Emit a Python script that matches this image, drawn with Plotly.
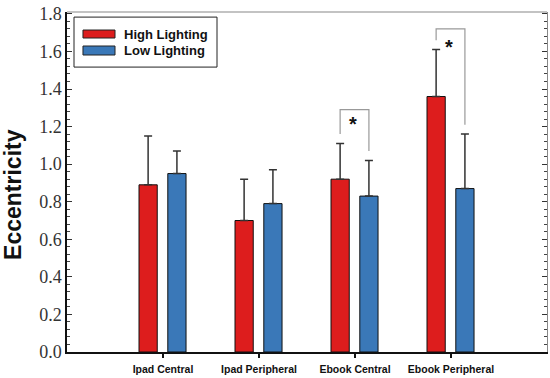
import plotly.graph_objects as go

categories = ["Ipad Central", "Ipad Peripheral", "Ebook Central", "Ebook Peripheral"]
high_values = [0.89, 0.70, 0.92, 1.36]
high_err = [0.26, 0.22, 0.19, 0.25]
low_values = [0.95, 0.79, 0.83, 0.87]
low_err = [0.12, 0.18, 0.19, 0.29]
series_names = ["High Lighting", "Low Lighting"]
sig_categories = ["Ebook Central", "Ebook Peripheral"]
sig_bracket_top = [1.29, 1.72]
sig_star_y = [1.215, 1.625]
y_ticks = [0.0, 0.2, 0.4, 0.6, 0.8, 1.0, 1.2, 1.4, 1.6, 1.8]

RED = "#DD1D1D"
BLUE = "#3A78B8"
BAR_W = 0.19
RED_OFF = -0.25
BLUE_OFF = 0.05

fig = go.Figure()
fig.add_trace(go.Bar(
    x=categories, y=high_values, name=series_names[0],
    width=BAR_W, offset=RED_OFF,
    marker=dict(color=RED, line=dict(color="#111", width=1)),
    error_y=dict(type="data", symmetric=False, array=high_err,
                 arrayminus=[0] * len(high_err), color="#333", thickness=1.5, width=4),
    showlegend=False,
))
fig.add_trace(go.Bar(
    x=categories, y=low_values, name=series_names[1],
    width=BAR_W, offset=BLUE_OFF,
    marker=dict(color=BLUE, line=dict(color="#111", width=1)),
    error_y=dict(type="data", symmetric=False, array=low_err,
                 arrayminus=[0] * len(low_err), color="#333", thickness=1.5, width=4),
    showlegend=False,
))
# invisible trace to activate right axis
fig.add_trace(go.Scatter(x=[categories[0]], y=[0], yaxis="y2", mode="markers",
                         marker=dict(opacity=0), showlegend=False, hoverinfo="skip"))

shapes = []
annotations = []
gap = 0.05
for cat, top, sy in zip(sig_categories, sig_bracket_top, sig_star_y):
    i = categories.index(cat)
    xl = i + RED_OFF + BAR_W / 2
    xr = i + BLUE_OFF + BAR_W / 2
    yl = high_values[i] + high_err[i] + gap
    yr = low_values[i] + low_err[i] + gap
    shapes.append(dict(type="path", xref="x", yref="y",
                       path=f"M {xl},{yl} L {xl},{top} L {xr},{top} L {xr},{yr}",
                       line=dict(color="#999", width=1.2)))
    annotations.append(dict(x=i - 0.02, y=sy, xref="x", yref="y", text="<b>*</b>",
                            showarrow=False, font=dict(family="Liberation Sans", size=20, color="#111"),
                            yanchor="middle"))

# frame top line
shapes.append(dict(type="line", xref="paper", yref="paper", x0=0, x1=1, y0=1, y1=1,
                   line=dict(color="#888", width=1.2)))

# custom legend
shapes.append(dict(type="rect", xref="paper", yref="paper", x0=0.0146, x1=0.3125, y0=0.838, y1=0.985,
                   line=dict(color="#222", width=1), fillcolor="white"))
shapes.append(dict(type="rect", xref="paper", yref="paper", x0=0.0333, x1=0.1, y0=0.9235, y1=0.947,
                   line=dict(color="#222", width=1), fillcolor=RED))
shapes.append(dict(type="rect", xref="paper", yref="paper", x0=0.0333, x1=0.1, y0=0.8735, y1=0.9,
                   line=dict(color="#222", width=1), fillcolor=BLUE))
for name, yy in zip(series_names, [0.935, 0.8868]):
    annotations.append(dict(x=0.1146, y=yy, xref="paper", yref="paper", text=name,
                            showarrow=False, xanchor="left", yanchor="middle",
                            font=dict(family="Liberation Sans", size=13, color="#111", weight="bold")))

# y title
annotations.append(dict(x=-0.1125, y=0.462, xref="paper", yref="paper", text="<b>Eccentricity</b>",
                        textangle=-90, showarrow=False, xanchor="center", yanchor="middle",
                        font=dict(family="Liberation Sans", size=23, color="#111")))

fig.update_layout(
    width=550, height=378,
    margin=dict(l=67, r=3, t=12, b=26),
    paper_bgcolor="white", plot_bgcolor="white",
    shapes=shapes, annotations=annotations,
    xaxis=dict(type="category", range=[-1, 4], showline=True, linecolor="#111", linewidth=1.5,
               ticks="outside", ticklen=4, tickcolor="#111", tickwidth=1.5, ticklabelstandoff=3,
               tickfont=dict(family="Liberation Sans", size=10.5, color="#111", weight="bold"),
               showgrid=False, zeroline=False),
    yaxis=dict(range=[0, 1.81], tickvals=y_ticks, ticktext=[f"{v:.1f}" for v in y_ticks],
               showline=True, linecolor="#111", linewidth=1.5,
               ticks="inside", ticklen=5, tickcolor="#333", tickwidth=1.2,
               minor=dict(dtick=0.04, tick0=0, ticks="inside", ticklen=3, tickcolor="#444", tickwidth=1),
               tickfont=dict(family="Liberation Serif", size=18, color="#333"),
               showgrid=False, zeroline=False),
    yaxis2=dict(range=[0, 1.81], overlaying="y", side="right", showticklabels=False,
                tickvals=y_ticks, showline=True, linecolor="#888", linewidth=1.2,
                ticks="inside", ticklen=5, tickcolor="#333", tickwidth=1.2,
                minor=dict(dtick=0.04, tick0=0, ticks="inside", ticklen=3, tickcolor="#444", tickwidth=1),
                showgrid=False, zeroline=False),
)

fig.write_html("out.html", config={"displayModeBar": False},
               post_script="document.body.style.margin='0';document.body.style.overflow='hidden';")
